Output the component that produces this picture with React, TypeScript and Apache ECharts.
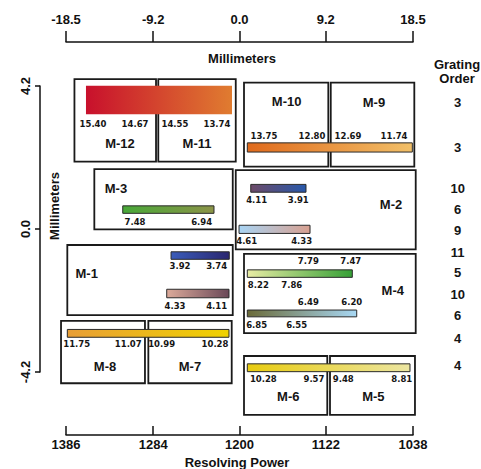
import React, { useEffect, useRef } from "react";
import * as echarts from "echarts";

// Axis ticks
const topTicks = [-18.5, -9.2, 0, 9.2, 18.5];
const resolvingPowerLabels = ["1386", "1284", "1200", "1122", "1038"];
const yTicks = [-4.2, 0, 4.2];

// Detector modules: [xLeft, xRight, yBottom, yTop] in mm
const moduleNames = ["M-12", "M-11", "M-10", "M-9", "M-3", "M-2", "M-1", "M-4", "M-8", "M-7", "M-6", "M-5"];
const moduleBoxes: number[][] = [
  [-17.6, -8.9, 1.98, 4.4],
  [-8.66, -0.4, 1.98, 4.4],
  [0.48, 9.47, 1.83, 4.3],
  [9.73, 18.64, 1.83, 4.3],
  [-15.48, -0.72, -0.01, 1.76],
  [-0.4, 18.79, -0.6, 1.73],
  [-18.36, -0.72, -2.53, -0.47],
  [0.48, 18.79, -3.06, -0.73],
  [-19.03, -10.08, -4.53, -2.7],
  [-9.72, -0.83, -4.53, -2.7],
  [0.48, 9.36, -5.46, -3.73],
  [9.65, 18.71, -5.46, -3.73],
];
const moduleLabelPos: number[][] = [
  [-12.74, 2.5], [-4.53, 2.5], [5.03, 3.74], [14.34, 3.73],
  [-13.17, 1.2], [16.16, 0.73], [-16.29, -1.3], [16.34, -1.82],
  [-14.34, -4.04], [-5.28, -4.05], [5.2, -4.92], [14.27, -4.93],
];

// Spectral bands: [xLeft, xRight, yBottom, yTop] in mm
const bandExtents: number[][] = [
  [-16.37, -0.8, 3.37, 4.21],
  [0.83, 18.43, 2.26, 2.53],
  [-12.45, -2.72, 0.46, 0.68],
  [-7.3, -1.09, -0.89, -0.67],
  [-7.76, -1.12, -2.02, -1.77],
  [1.2, 7.09, 1.08, 1.31],
  [-0.05, 7.52, -0.13, 0.11],
  [0.83, 12.03, -1.42, -1.2],
  [0.83, 12.5, -2.58, -2.38],
  [0.83, 18.18, -4.19, -3.96],
  [-18.36, -1.12, -3.18, -2.95],
];
const bandStartColors = ["#c8102c", "#e06a1c", "#48a838", "#3a5cba", "#dcaa9a", "#6c4a68", "#a8d4f4", "#e8eca4", "#6a6a38", "#e8cc10", "#e89e36"];
const bandEndColors = ["#e07c30", "#f2c068", "#8c9448", "#2a2670", "#6a4858", "#2858aa", "#d8a090", "#36a036", "#a8d8f4", "#ece6a2", "#f0d200"];
const bandHasOutline = [false, true, true, true, true, true, true, true, true, true, true];

// Wavelength labels (micrometers) and their positions in mm
const wavelengthLabels = [
  "15.40", "14.67", "14.55", "13.74",
  "13.75", "12.80", "12.69", "11.74",
  "7.48", "6.94",
  "3.92", "3.74",
  "4.33", "4.11",
  "4.11", "3.91",
  "4.61", "4.33",
  "7.79", "7.47",
  "8.22", "7.86",
  "6.49", "6.20",
  "6.85", "6.55",
  "10.28", "9.57", "9.48", "8.81",
  "11.75", "11.07", "10.99", "10.28",
];
const wavelengthPos: number[][] = [
  [-15.62, 3.08], [-11.14, 3.08], [-6.88, 3.08], [-2.4, 3.08],
  [2.61, 2.74], [7.73, 2.74], [11.57, 2.74], [16.48, 2.74],
  [-11.14, 0.21], [-4.03, 0.21],
  [-6.34, -1.09], [-2.43, -1.09],
  [-6.88, -2.25], [-2.43, -2.25],
  [1.83, 0.85], [6.27, 0.85],
  [0.77, -0.34], [6.63, -0.34],
  [7.34, -0.94], [11.86, -0.94],
  [2.01, -1.64], [5.57, -1.64],
  [7.34, -2.13], [11.97, -2.13],
  [1.83, -2.82], [6.1, -2.82],
  [2.54, -4.41], [7.94, -4.41], [11.07, -4.41], [17.3, -4.41],
  [-17.36, -3.39], [-11.86, -3.39], [-8.3, -3.39], [-2.61, -3.39],
];

// Grating orders listed on the right
const gratingOrders = ["3", "3", "10", "6", "9", "11", "5", "10", "6", "4", "4"];
const gratingOrderY = [3.73, 2.38, 1.2, 0.56, -0.03, -0.68, -1.29, -1.91, -2.55, -3.23, -4.02];
const gratingOrderX = 23.27;

const FONT = "'Liberation Sans', Arial, Helvetica, sans-serif";

export default function App() {
  const ref = useRef<HTMLDivElement>(null);
  useEffect(() => {
    if (!ref.current) return;
    const chart = echarts.init(ref.current, undefined, { renderer: "svg" });

    const axisTextStyle = { color: "#111", fontSize: 13, fontWeight: "bold" as const, fontFamily: FONT };

    const rectFrom = (api: any) => {
      const p0 = api.coord([api.value(0), api.value(3)]);
      const p1 = api.coord([api.value(1), api.value(2)]);
      return { x: p0[0], y: p0[1], width: p1[0] - p0[0], height: p1[1] - p0[1] };
    };

    const textSeries = (name: string, data: number[][], texts: string[], fontSize: number, fontFamily: string) => ({
      type: "custom",
      name,
      xAxisIndex: 0,
      yAxisIndex: 0,
      clip: false,
      silent: true,
      data,
      renderItem: (params: any, api: any) => {
        const p = api.coord([api.value(0), api.value(1)]);
        return {
          type: "text",
          style: {
            text: texts[params.dataIndex],
            x: p[0],
            y: p[1],
            align: "center",
            verticalAlign: "middle",
            fontSize,
            fontWeight: "bold",
            fontFamily,
            fill: "#151515",
          },
        };
      },
    });

    const titleStyle = { fontSize: 13, fontWeight: "bold", fontFamily: FONT, fill: "#111", align: "center", verticalAlign: "middle" };

    const option: any = {
      animation: false,
      backgroundColor: "#ffffff",
      grid: { left: 66, right: 68, top: 86, bottom: 97, containLabel: false },
      xAxis: [
        {
          type: "value",
          position: "top",
          offset: 44,
          min: -18.5,
          max: 18.5,
          axisLine: { show: true, onZero: false, lineStyle: { color: "#111", width: 1.5 } },
          axisTick: { show: true, customValues: topTicks, length: 11, lineStyle: { color: "#111", width: 1.5 } },
          axisLabel: { ...axisTextStyle, customValues: topTicks, margin: 16, formatter: (v: number) => v.toFixed(1) },
          splitLine: { show: false },
        },
        {
          type: "value",
          position: "bottom",
          offset: 63,
          min: -18.5,
          max: 18.5,
          axisLine: { show: true, onZero: false, lineStyle: { color: "#111", width: 1.5 } },
          axisTick: { show: true, inside: true, customValues: topTicks, length: 9, lineStyle: { color: "#111", width: 1.5 } },
          axisLabel: {
            ...axisTextStyle,
            customValues: topTicks,
            margin: 3,
            formatter: (v: number) => {
              const i = topTicks.findIndex((t) => Math.abs(t - v) < 1e-6);
              return i >= 0 ? resolvingPowerLabels[i] : "";
            },
          },
          splitLine: { show: false },
        },
      ],
      yAxis: {
        type: "value",
        position: "left",
        offset: 26,
        min: -4.2,
        max: 4.2,
        axisLine: { show: true, onZero: false, lineStyle: { color: "#111", width: 1.5 } },
        axisTick: { show: true, customValues: yTicks, length: 5, lineStyle: { color: "#111", width: 1.5 } },
        axisLabel: { ...axisTextStyle, customValues: yTicks, rotate: 90, margin: 8, formatter: (v: number) => v.toFixed(1) },
        splitLine: { show: false },
      },
      graphic: [
        { type: "text", x: 242, y: 58, style: { text: "Millimeters", ...titleStyle } },
        { type: "text", x: 54, y: 206, rotation: Math.PI / 2, style: { text: "Millimeters", ...titleStyle } },
        { type: "text", x: 237, y: 462, style: { text: "Resolving Power", ...titleStyle } },
        { type: "text", x: 457, y: 64, style: { text: "Grating", ...titleStyle } },
        { type: "text", x: 457, y: 78, style: { text: "Order", ...titleStyle } },
      ],
      series: [
        {
          type: "custom",
          name: "modules",
          xAxisIndex: 0,
          yAxisIndex: 0,
          clip: false,
          silent: true,
          data: moduleBoxes,
          renderItem: (params: any, api: any) => ({
            type: "rect",
            shape: rectFrom(api),
            style: { fill: "#ffffff", stroke: "#1a1a1a", lineWidth: 1.8 },
          }),
        },
        {
          type: "custom",
          name: "bands",
          xAxisIndex: 0,
          yAxisIndex: 0,
          clip: false,
          silent: true,
          data: bandExtents,
          renderItem: (params: any, api: any) => {
            const i = params.dataIndex;
            return {
              type: "rect",
              shape: rectFrom(api),
              style: {
                fill: new echarts.graphic.LinearGradient(0, 0, 1, 0, [
                  { offset: 0, color: bandStartColors[i] },
                  { offset: 1, color: bandEndColors[i] },
                ]),
                stroke: bandHasOutline[i] ? "#2a2a2a" : "none",
                lineWidth: 1,
              },
            };
          },
        },
        textSeries("wavelengths", wavelengthPos, wavelengthLabels, 8.5, "'DejaVu Sans', sans-serif"),
        textSeries("moduleNames", moduleLabelPos, moduleNames, 13, FONT),
        textSeries(
          "orders",
          gratingOrderY.map((y) => [gratingOrderX, y]),
          gratingOrders,
          13,
          FONT
        ),
      ],
    };

    chart.setOption(option);
    return () => chart.dispose();
  }, []);

  return (
    <div
      ref={ref}
      style={{ position: "fixed", left: 0, top: 0, width: 481, height: 469, background: "#fff" }}
    />
  );
}
